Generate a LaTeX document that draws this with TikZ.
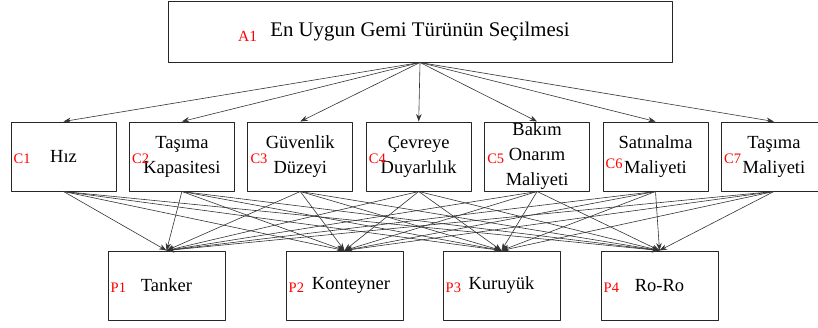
\documentclass[tikz,border=0pt]{standalone}
\usepackage{fontspec}
\setmainfont{Liberation Serif}
\usetikzlibrary{arrows.meta}
\begin{document}
\begin{tikzpicture}[x=1pt,y=-1pt,line join=round,>={Stealth[length=7.5pt,width=5.5pt]},
  box/.style={draw=black!85,line width=1pt,inner sep=0pt,align=center,font=\fontsize{18.5}{25}\selectfont},
  lab/.style={red,font=\fontsize{14.5}{16}\selectfont,inner sep=0pt,anchor=base west},
  link/.style={->,line width=0.6pt,black!80}]
	\useasboundingbox (0,0) rectangle (818,327);
	\node[box,minimum width=504pt,minimum height=61pt,font=\fontsize{20.8}{24}\selectfont] (a1) at (420,31.5) {En Uygun Gemi Türünün Seçilmesi};
	\node[lab,font=\fontsize{15.5}{17}\selectfont] (la1) at (238,41) {A1};
	\foreach \n/\x/\t/\yl in {1/63.5/Hız/163,2/181.9/Taşıma\\Kapasitesi/163,3/300.3/Güvenlik\\Düzeyi/163,4/418.7/Çevreye\\Duyarlılık/163,5/537.1/Bakım\\Onarım\\Maliyeti/163,6/655.5/Satınalma\\Maliyeti/168,7/773.9/Taşıma\\Maliyeti/163}
	{\node[box,minimum width=105pt,minimum height=69pt] (c\n) at (\x,156.5) {\t};
	 \node[lab] (lc\n) at (\x-50,\yl) {C\n};}
	\foreach \n/\x/\t in {1/166.5/Tanker,2/344.5/\hspace*{13pt}Konteyner,3/501.5/Kuruyük,4/659.5/Ro-Ro}
	{\node[box,minimum width=117pt,minimum height=69pt] (p\n) at (\x,285.5) {\t};
	 \node[lab] (lp\n) at (\x-56,292) {P\n};}
	\foreach \i in {1,...,7}\draw[link] (a1.south)--(c\i.north);
	\foreach \i in {1,...,7}\foreach \j in {1,...,4}\draw[link] (c\i.south)--(p\j.north);
\end{tikzpicture}
\end{document}
